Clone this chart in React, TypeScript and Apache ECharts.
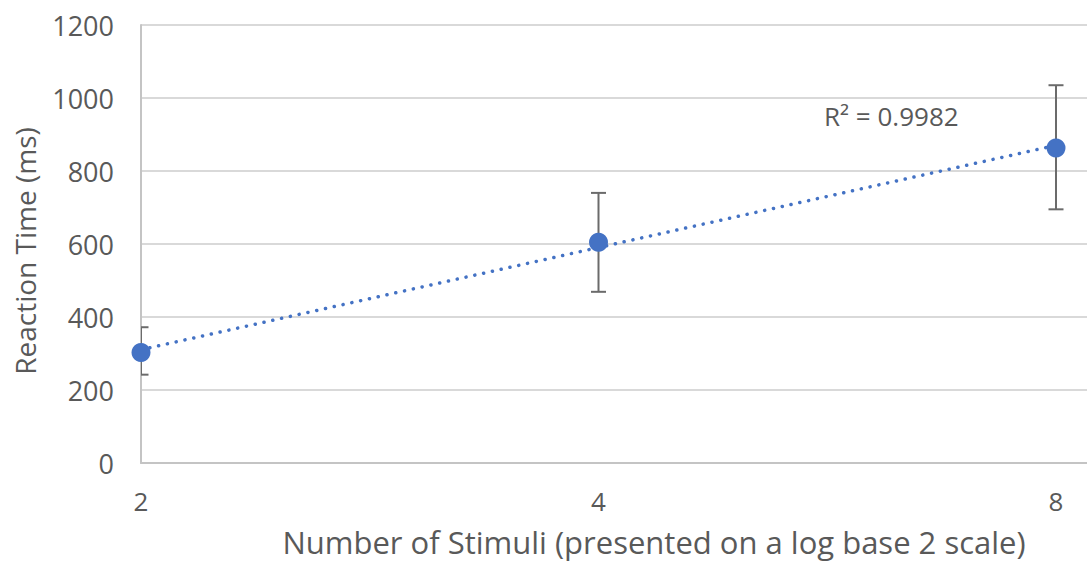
import React, { useEffect, useRef } from "react";
import * as echarts from "echarts";

const stimuli = [2, 4, 8];
const reactionTime = [303, 605, 863];
const errorLow = [242, 469, 695];
const errorHigh = [372, 740, 1035];
const yTicks = { min: 0, max: 1200, interval: 200 };
const rSquaredLabel = "R² = 0.9982";
const xTitle = "Number of Stimuli (presented on a log base 2 scale)";
const yTitle = "Reaction Time (ms)";

const FONT = "'Open Sans', sans-serif";
const TEXT_COLOR = "#595959";
const BLUE = "#4472C4";

export default function App() {
  const ref = useRef<HTMLDivElement>(null);

  useEffect(() => {
    if (!ref.current) return;
    const chart = echarts.init(ref.current, undefined, { renderer: "svg" });

    const lx = stimuli.map((s) => Math.log2(s));
    // least-squares logarithmic trendline from data
    const n = lx.length;
    const mx = lx.reduce((a, b) => a + b, 0) / n;
    const my = reactionTime.reduce((a, b) => a + b, 0) / n;
    let sxy = 0, sxx = 0;
    for (let i = 0; i < n; i++) {
      sxy += (lx[i] - mx) * (reactionTime[i] - my);
      sxx += (lx[i] - mx) ** 2;
    }
    const slope = sxy / sxx;
    const intercept = my - slope * mx;
    const xMinL = lx[0];
    const xMaxL = lx[n - 1];
    const trend = [
      [xMinL, intercept + slope * xMinL],
      [xMaxL, intercept + slope * xMaxL],
    ];

    const gridLeft = 141;
    const gridRight = 0;
    const lastPointPx = 1056;
    const axisMax = xMinL + ((1087 - gridRight - gridLeft) * (xMaxL - xMinL)) / (lastPointPx - gridLeft);

    chart.setOption({
      animation: false,
      grid: { left: gridLeft, right: gridRight, top: 25, bottom: 101, containLabel: false },
      xAxis: {
        type: "value",
        min: xMinL,
        max: axisMax,
        interval: 1,
        axisLine: { show: true, lineStyle: { color: "#c4c4c4", width: 2 } },
        axisTick: { show: false },
        splitLine: { show: false },
        axisLabel: {
          color: TEXT_COLOR,
          fontSize: 26,
          fontFamily: FONT,
          margin: 25,
          showMaxLabel: false,
          formatter: (v: number) =>
            Math.abs(v - Math.round(v)) < 1e-9 ? String(Math.round(2 ** v)) : "",
        },
      },
      yAxis: {
        type: "value",
        min: yTicks.min,
        max: yTicks.max,
        interval: yTicks.interval,
        axisLine: { show: true, lineStyle: { color: "#c4c4c4", width: 2 } },
        axisTick: { show: false },
        splitLine: { show: true, lineStyle: { color: "#d9d9d9", width: 2 } },
        axisLabel: {
          color: TEXT_COLOR,
          fontSize: 27,
          fontFamily: FONT,
          margin: 27,
          formatter: (v: number) => String(v),
        },
      },
      graphic: [
        {
          type: "text",
          x: 654,
          y: 542,
          style: {
            text: xTitle,
            fill: TEXT_COLOR,
            font: `31px ${FONT}`,
            textAlign: "center",
            textVerticalAlign: "middle",
          },
        },
        {
          type: "text",
          x: 25,
          y: 251,
          rotation: Math.PI / 2,
          style: {
            text: yTitle,
            fill: TEXT_COLOR,
            font: `28px ${FONT}`,
            textAlign: "center",
            textVerticalAlign: "middle",
          },
        },
        {
          type: "text",
          x: 824,
          y: 116,
          style: {
            text: rSquaredLabel,
            fill: TEXT_COLOR,
            font: `26px ${FONT}`,
            textAlign: "left",
            textVerticalAlign: "middle",
          },
        },
      ],
      series: [
        {
          type: "line",
          data: trend,
          symbol: "none",
          silent: true,
          z: 2,
          lineStyle: { color: BLUE, width: 3.5, type: [0.1, 8.9], cap: "round" },
        },
        {
          type: "custom",
          clip: true,
          z: 3,
          data: lx.map((x, i) => [x, errorLow[i], errorHigh[i]]),
          encode: { x: 0, y: [1, 2] },
          renderItem: (params: any, api: any) => {
            const x = api.value(0);
            const pHi = api.coord([x, api.value(2)]);
            const pLo = api.coord([x, api.value(1)]);
            const hw = 7.5;
            const style = { stroke: "#6b6b6b", lineWidth: 2 };
            return {
              type: "group",
              children: [
                { type: "line", shape: { x1: pHi[0], y1: pHi[1], x2: pLo[0], y2: pLo[1] }, style },
                { type: "line", shape: { x1: pHi[0] - hw, y1: pHi[1], x2: pHi[0] + hw, y2: pHi[1] }, style },
                { type: "line", shape: { x1: pLo[0] - hw, y1: pLo[1], x2: pLo[0] + hw, y2: pLo[1] }, style },
              ],
            };
          },
        },
        {
          type: "scatter",
          data: lx.map((x, i) => [x, reactionTime[i]]),
          symbol: "circle",
          symbolSize: 19,
          z: 4,
          itemStyle: { color: BLUE, opacity: 1 },
        },
      ],
    });

    return () => chart.dispose();
  }, []);

  return (
    <div
      ref={ref}
      style={{ position: "fixed", left: 0, top: 0, width: 1087, height: 564, background: "#fff" }}
    />
  );
}
